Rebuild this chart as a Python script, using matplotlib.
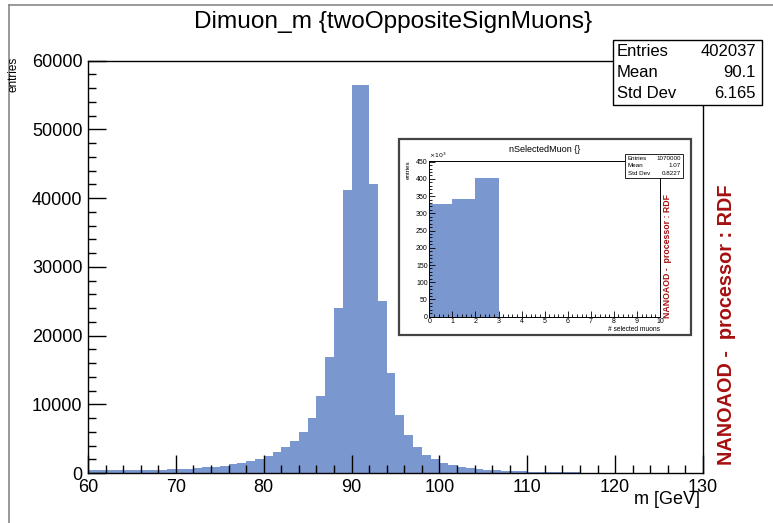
import numpy as np
import matplotlib
matplotlib.use("Agg")
import matplotlib.pyplot as plt
from matplotlib.ticker import MultipleLocator
from matplotlib.patches import Rectangle

plt.rcParams['font.family'] = ['Liberation Sans', 'DejaVu Sans']

# ---- data: main histogram (1 GeV bins, 60..130) ----
bin_edges_main = np.arange(60, 131, 1)
counts_main = [470, 450, 440, 440, 450, 460, 470, 480, 500, 510,
               530, 630, 720, 820, 920, 1070, 1260, 1460, 1700, 2040,
               2470, 3010, 3830, 4680, 5970, 8050, 11200, 16930, 23970, 41200,
               56450, 56450, 42000, 25040, 14500, 8500, 5500, 3750, 2620, 1990,
               1500, 1120, 830, 680, 540, 440, 370, 310, 260, 220,
               190, 160, 140, 110, 90, 80, 70, 60, 55, 50,
               40, 35, 30, 28, 25, 22, 20, 18, 15, 12]
main_title = "Dimuon_m {twoOppositeSignMuons}"
main_stats = [("Entries", "402037"), ("Mean", "90.1"), ("Std Dev", "6.165")]

# ---- data: inset histogram ----
bin_edges_inset = np.arange(0, 11, 1)
counts_inset_k = [328, 341, 402, 0, 0, 0, 0, 0, 0, 0]  # x10^3
inset_title = "nSelectedMuon {}"
inset_stats = [("Entries", "1070000"), ("Mean", "1.07"), ("Std Dev", "0.8227")]

label_text = "NANOAOD -  processor : RDF"
bar_color = "#7a97d0"
red = "#a50f0f"

W, H = 773, 523
fig = plt.figure(figsize=(W / 100, H / 100), dpi=100)


def rect(x0, y0, x1, y1):
    return [x0 / W, 1 - y1 / H, (x1 - x0) / W, (y1 - y0) / H]


def fx(x):
    return x / W


def fy(y):
    return 1 - y / H


# figure frame lines
fig.add_artist(plt.Line2D([fx(9), fx(9)], [0, fy(5)], color="#888888", lw=1.2))
fig.add_artist(plt.Line2D([fx(9), 1], [fy(5), fy(5)], color="#888888", lw=1.2))

# ---- main axes ----
ax = fig.add_axes(rect(88, 60.7, 703, 473))
ax.hist(bin_edges_main[:-1], bins=bin_edges_main, weights=counts_main,
        color=bar_color, histtype="stepfilled", lw=0)
ax.set_xlim(60, 130)
ax.set_ylim(0, 60000)
ax.xaxis.set_major_locator(MultipleLocator(10))
ax.xaxis.set_minor_locator(MultipleLocator(2))
ax.yaxis.set_major_locator(MultipleLocator(10000))
ax.yaxis.set_minor_locator(MultipleLocator(2000))
ax.tick_params(which="both", direction="in", top=False, right=False,
               labelsize=13, width=1)
ax.tick_params(which="major", length=13, pad=4)
ax.tick_params(which="minor", length=6)
for s in ax.spines.values():
    s.set_linewidth(1.0)

fig.text(fx(393), fy(22), main_title, ha="center", va="center", fontsize=17.6)
fig.text(fx(700), fy(500), "m [GeV]", ha="right", va="center", fontsize=13)
fig.text(fx(14), fy(57), "entries", ha="center", va="top", rotation=90,
         fontsize=8.5)

# stats box main
fig.add_artist(Rectangle((fx(613), fy(105)), fx(762) - fx(613), fy(40) - fy(105),
                         transform=fig.transFigure, facecolor="white",
                         edgecolor="black", lw=1.0, zorder=10))
for i, (k, v) in enumerate(main_stats):
    yy = fy(51 + i * 21.5)
    fig.text(fx(617), yy, k, ha="left", va="center", fontsize=12, zorder=11)
    fig.text(fx(756), yy, v, ha="right", va="center", fontsize=12, zorder=11)

fig.text(fx(727), fy(325), label_text, rotation=90, ha="center", va="center",
         fontsize=14.3, fontweight="bold", color=red)

# ---- inset pad ----
fig.add_artist(Rectangle((fx(399), fy(335)), fx(691) - fx(399), fy(139) - fy(335),
                         transform=fig.transFigure, facecolor="white",
                         edgecolor="#444444", lw=1.6, zorder=5))

axi = fig.add_axes(rect(429.3, 161, 660, 316.7), zorder=6)
axi.hist(bin_edges_inset[:-1], bins=bin_edges_inset, weights=counts_inset_k,
         color=bar_color, histtype="stepfilled", lw=0)
axi.set_xlim(0, 10)
axi.set_ylim(0, 452)
axi.xaxis.set_major_locator(MultipleLocator(1))
axi.xaxis.set_minor_locator(MultipleLocator(0.2))
axi.yaxis.set_major_locator(MultipleLocator(50))
axi.yaxis.set_minor_locator(MultipleLocator(10))
axi.tick_params(which="both", direction="in", top=False, right=False,
                labelsize=5, width=0.6, pad=1.2)
axi.tick_params(which="major", length=4)
axi.tick_params(which="minor", length=2)
for s in axi.spines.values():
    s.set_linewidth(0.7)

fig.text(fx(545), fy(150), inset_title, ha="center", va="center", fontsize=6.5,
         zorder=7)
fig.text(fx(660), fy(329.5), "# selected muons", ha="right", va="center",
         fontsize=4.8, zorder=7)
fig.text(fx(408), fy(160), "entries", ha="center", va="top", rotation=90,
         fontsize=4.5, zorder=7)
fig.text(fx(429), fy(160), r"$\times10^{3}$", ha="left", va="bottom",
         fontsize=4.5, zorder=7)

fig.add_artist(Rectangle((fx(625), fy(177.7)), fx(683) - fx(625), fy(154) - fy(177.7),
                         transform=fig.transFigure, facecolor="white",
                         edgecolor="black", lw=0.6, zorder=8))
for i, (k, v) in enumerate(inset_stats):
    yy = fy(158 + i * 7.7)
    fig.text(fx(627.5), yy, k, ha="left", va="center", fontsize=4.5, zorder=9)
    fig.text(fx(681), yy, v, ha="right", va="center", fontsize=4.5, zorder=9)

fig.text(fx(668), fy(256), label_text, rotation=90, ha="center", va="center",
         fontsize=6.3, fontweight="bold", color=red, zorder=9)

fig.savefig("out.png", dpi=100)
